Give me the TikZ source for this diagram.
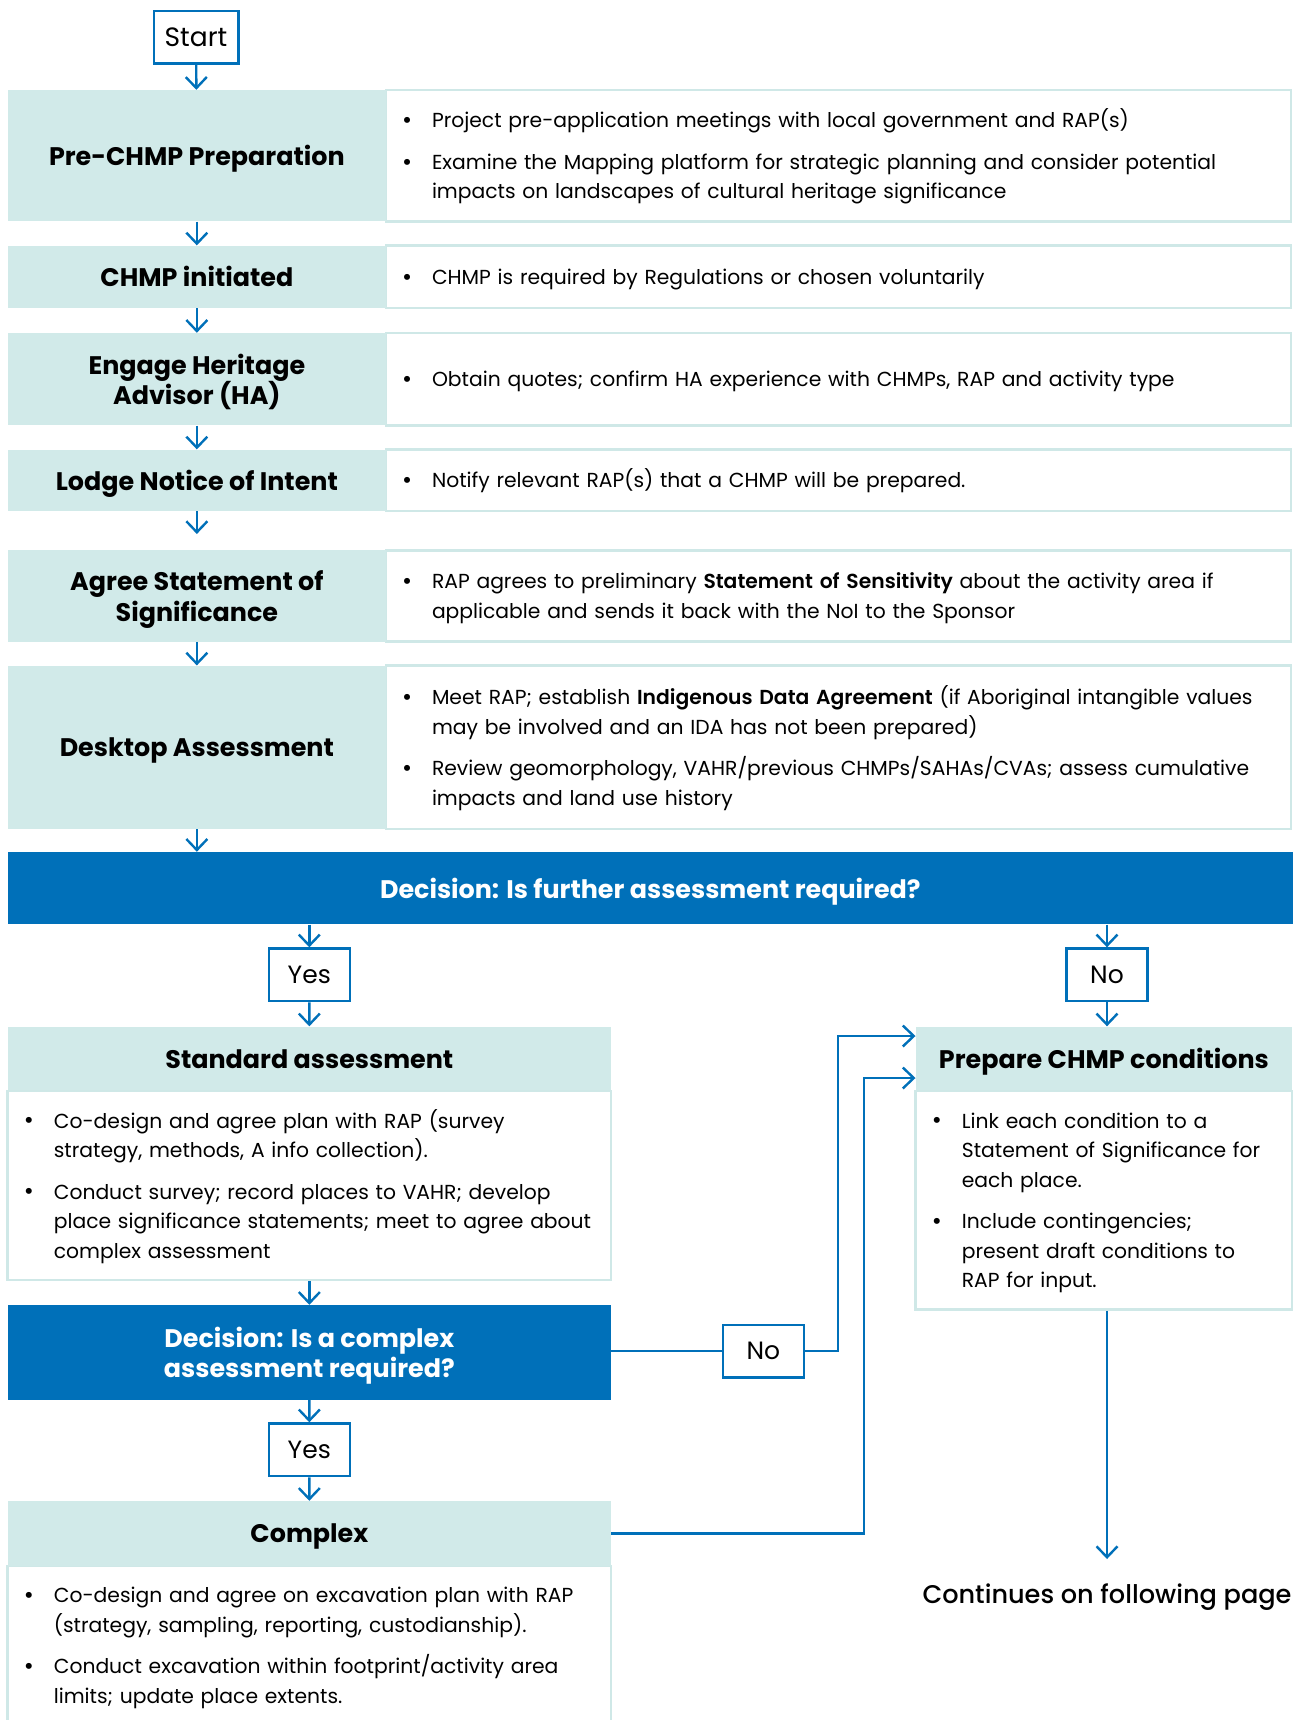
\documentclass[tikz,border=0pt]{standalone}
\usepackage{fontspec}
\usepackage{graphicx}
\setmainfont{Poppins}[BoldFont={Poppins SemiBold}]
\newfontfamily\medfont{Poppins Medium}
\newfontfamily\headbold{Poppins Bold}
\usetikzlibrary{arrows.meta,calc}
\definecolor{tealbg}{HTML}{D1EAE9}
\definecolor{tealln}{HTML}{CFE8E7}
\definecolor{vblue}{HTML}{0070B9}
\newlength\bulind \setlength\bulind{32pt}
\newcommand\bl[1]{\par\noindent\hangindent=\bulind\hangafter=1\hbox to\bulind{\hspace{2pt}\raisebox{-0.8pt}{\scalebox{1.2}{\textbullet}}\hfil}#1\par}
\newcommand\nl{\hfil\break}
\newcommand\bsep{\par\vspace{12pt}}
\newcommand\wendsp{\par\vspace{9pt}}
\newcommand\bodyfont{\fontsize{20.3}{29.5}\selectfont}
\newcommand\headfont{\fontsize{25.4}{30.7}\selectfont\headbold}
\newcommand\ynfont{\fontsize{25}{28}\selectfont}
\begin{document}
\begin{tikzpicture}[x=1pt,y=-1pt,
  head/.style={fill=tealbg, draw=none, font=\headfont, align=center, inner sep=0pt, text depth=0pt},
  wbox/.style={fill=white, draw=tealln, line width=2.5pt, inner xsep=14pt, inner ysep=0pt, align=left, font=\bodyfont, execute at end node=\wendsp},
  ynbox/.style={fill=white, draw=vblue, line width=2.5pt, font=\ynfont, inner sep=0pt, minimum width=81pt, minimum height=52.5pt, text depth=0pt},
  decbox/.style={fill=vblue, text=white, font=\headfont, align=center, inner sep=0pt, text depth=0pt},
  arr/.style={draw=vblue, line width=2.4pt, -{Straight Barb[length=11pt,width=21pt,line width=2.4pt]}},
  ln/.style={draw=vblue, line width=2.4pt}]
\useasboundingbox (0,0) rectangle (1304,1720);
\clip (0,0) rectangle (1304,1720);
\fill[white] (0,0) rectangle (1304,1720);

% Start
\node[ynbox, minimum width=84.5pt, minimum height=52.6pt, font=\fontsize{26.5}{28}\selectfont] (start) at (196,37.3) {Start};

% Rows: right white boxes
\node[wbox, minimum width=905pt, minimum height=131.5pt, text width=877pt] (preR) at (838.5,155.75)
 {\bl{Project pre-application meetings with local government and RAP(s)}\bsep
  \bl{Examine the Mapping platform for strategic planning and consider potential\nl impacts on landscapes of cultural heritage significance}};
\node[wbox, minimum width=905pt, minimum height=62.4pt, text width=877pt] (initR) at (838.5,276.8)
 {\bl{CHMP is required by Regulations or chosen voluntarily}};
\node[wbox, minimum width=905pt, minimum height=92.5pt, text width=877pt] (engR) at (838.5,379.2)
 {\bl{Obtain quotes; confirm HA experience with CHMPs, RAP and activity type}};
\node[wbox, minimum width=905pt, minimum height=61.4pt, text width=877pt] (lodR) at (838.5,480.3)
 {\bl{Notify relevant RAP(s) that a CHMP will be prepared.}};
\node[wbox, minimum width=905pt, minimum height=91.1pt, text width=877pt] (agrR) at (838.5,596)
 {\bl{RAP agrees to preliminary \textbf{Statement of Sensitivity} about the activity area if\nl applicable and sends it back with the NoI to the Sponsor}};
\node[wbox, minimum width=905pt, minimum height=163.3pt, text width=877pt] (desR) at (838.5,747.3)
 {\bl{Meet RAP; establish \textbf{Indigenous Data Agreement} (if Aboriginal intangible values\nl may be involved and an IDA has not been prepared)}\bsep
  \bl{Review geomorphology, VAHR/previous CHMPs/SAHAs/CVAs; assess cumulative\nl impacts and land use history}};

% Rows: left teal boxes
\node[head, minimum width=378.3pt, minimum height=131.5pt] (pre) at (196.85,155.75) {Pre-CHMP Preparation};
\node[head, minimum width=378.3pt, minimum height=62.4pt] (init) at (196.85,276.8) {CHMP initiated};
\node[head, minimum width=378.3pt, minimum height=92.5pt] (eng) at (196.85,379.2) {Engage Heritage\\Advisor (HA)};
\node[head, minimum width=378.3pt, minimum height=61.4pt] (lod) at (196.85,480.3) {Lodge Notice of Intent};
\node[head, minimum width=378.3pt, minimum height=91.1pt] (agr) at (196.85,596) {Agree Statement of\\Significance};
\node[head, minimum width=378.3pt, minimum height=163.3pt] (des) at (196.85,747.3) {Desktop Assessment};

% Decision 1
\node[decbox, minimum width=1285.3pt, minimum height=72.5pt] (dec1) at (650.35,888.2) {Decision: Is further assessment required?};
\node[ynbox] (yes1) at (309.3,974.8) {Yes};
\node[ynbox] (no1) at (1107,974.8) {No};

% Standard assessment
\node[head, minimum width=603.3pt, minimum height=64.5pt] (stdh) at (309.35,1058.75) {Standard assessment};
\node[wbox, minimum width=603.3pt, minimum height=189pt, text width=575pt] (stdb) at (309.35,1185.5)
 {\bl{Co-design and agree plan with RAP (survey\nl strategy, methods, A info collection).}\bsep
  \bl{Conduct survey; record places to VAHR; develop\nl place significance statements; meet to agree about\nl complex assessment}};

% Prepare CHMP conditions
\node[head, minimum width=376.3pt, minimum height=64.5pt] (preph) at (1103.85,1058.75) {Prepare CHMP conditions};
\node[wbox, minimum width=376.3pt, minimum height=218.5pt, text width=348pt] (prepb) at (1103.85,1200.25)
 {\bl{Link each condition to a\nl Statement of Significance for\nl each place.}\bsep
  \bl{Include contingencies;\nl present draft conditions to\nl RAP for input.}};

% Decision 2
\node[decbox, minimum width=603.3pt, minimum height=94.5pt] (dec2) at (309.35,1352.25) {Decision: Is a complex\\assessment required?};
\node[ynbox] (no2) at (763.3,1351) {No};
\node[ynbox] (yes2) at (309.3,1449.75) {Yes};

% Complex
\node[head, minimum width=603.3pt, minimum height=65pt] (cpxh) at (309.35,1533.5) {Complex};
\node[wbox, minimum width=603.3pt, minimum height=159.2pt, text width=575pt] (cpxb) at (309.35,1645.6)
 {\bl{Co-design and agree on excavation plan with RAP\nl (strategy, sampling, reporting, custodianship).}\bsep
  \bl{Conduct excavation within footprint/activity area\nl limits; update place extents.}};
\fill[tealbg] (cpxh.south west) rectangle ([yshift=1.2pt]cpxh.south east);

% Continues
\node[font=\fontsize{25.6}{28}\selectfont\medfont] (cont) at (1107,1597) {Continues on following page};
\coordinate (contarr) at (1107,1559);
\coordinate (lodarr) at (196.85,534);

% Connectors
\draw[arr] (start) -- (pre);
\draw[arr] (pre) -- (init);
\draw[arr] (init) -- (eng);
\draw[arr] (eng) -- (lod);
\draw[arr] (lod.south) -- (lodarr);
\draw[arr] (agr) -- (des);
\draw[arr] (des.south) -- (des.south |- dec1.north);
\draw[arr] (dec1.south -| yes1) -- (yes1.north);
\draw[arr] (yes1) -- (stdh);
\draw[arr] (dec1.south -| no1) -- (no1.north);
\draw[arr] (no1.south) -- (no1.south |- preph.north);
\draw[arr] (stdb.south) -- (dec2.north);
\draw[arr] (dec2) -- (yes2);
\draw[arr] (yes2) -- (cpxh);
\draw[ln] (dec2.east |- no2) -- (no2.west);
\coordinate (n2up) at (838,1036);
\draw[arr] (no2.east) -| (n2up) -- (n2up -| preph.west);
\coordinate (cxup) at (864,1078);
\draw[arr] (cpxh.east) -| (cxup) -- (cxup -| preph.west);
\draw[arr] (prepb.south -| contarr) -- (contarr);
\end{tikzpicture}
\end{document}
